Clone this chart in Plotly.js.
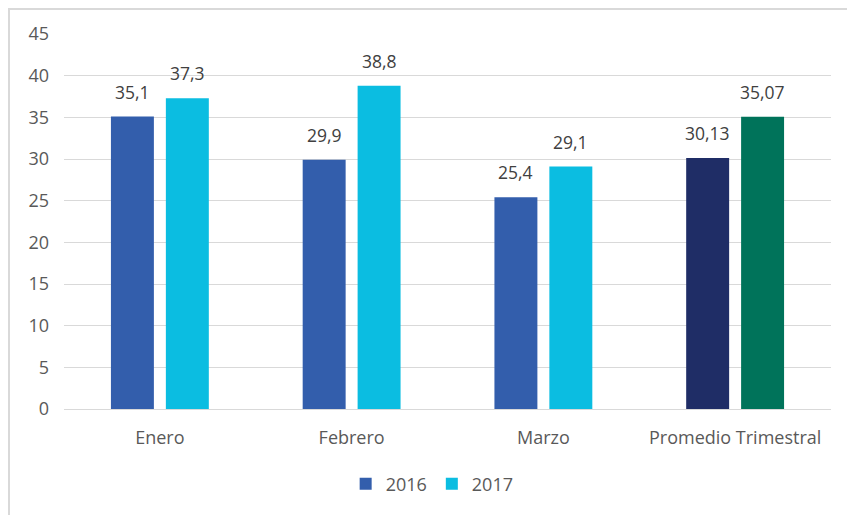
<!DOCTYPE html>
<html><head><meta charset="utf-8">
<script src="https://cdn.plot.ly/plotly-3.0.1.min.js"></script>
<style>
html,body{margin:0;padding:0;background:#fff;}
#wrap{position:relative;width:847px;height:515px;overflow:hidden;}
#frame{position:absolute;left:8px;top:8px;width:860px;height:530px;border:2px solid #d9d9d9;box-sizing:border-box;}
#chart{position:absolute;left:0;top:0;width:847px;height:515px;}
</style></head>
<body><div id="wrap"><div id="frame"></div><div id="chart"></div></div>
<script>
const categories = ["Enero", "Febrero", "Marzo", "Promedio Trimestral"];
const values2016 = [35.1, 29.9, 25.4, 30.13];
const values2017 = [37.3, 38.8, 29.1, 35.07];
const colors2016 = ["#335EAC", "#335EAC", "#335EAC", "#1F2D66"];
const colors2017 = ["#0BBDE1", "#0BBDE1", "#0BBDE1", "#00735A"];
const yTicks = [0, 5, 10, 15, 20, 25, 30, 35, 40, 45];

const fmt = v => String(v).replace('.', ',');
const labelFont = {family: "Open Sans, sans-serif", size: 17.5, color: "#404040"};

const traces = [
  {type: "bar", name: "2016", x: categories, y: values2016,
   marker: {color: colors2016}, hoverinfo: "none"},
  {type: "bar", name: "2017", x: categories, y: values2017,
   marker: {color: colors2017}, hoverinfo: "none"}
];

const annotations = [];
categories.forEach((c, i) => {
  annotations.push({x: c, y: values2016[i], text: fmt(values2016[i]), xref: "x", yref: "y",
    showarrow: false, yanchor: "bottom", xshift: -27.5, yshift: 11, font: labelFont});
  annotations.push({x: c, y: values2017[i], text: fmt(values2017[i]), xref: "x", yref: "y",
    showarrow: false, yanchor: "bottom", xshift: 27.5, yshift: 11, font: labelFont});
});

const layout = {
  width: 847, height: 515,
  margin: {l: 64, r: 16, t: 34, b: 106},
  paper_bgcolor: "rgba(0,0,0,0)", plot_bgcolor: "rgba(0,0,0,0)",
  barmode: "group", bargap: 0.427, bargroupgap: 0.218,
  font: {family: "Open Sans, sans-serif", size: 18, color: "#595959"},
  xaxis: {showgrid: false, showline: true, linecolor: "#d9d9d9", linewidth: 1,
          ticks: "", ticklabelstandoff: 12, tickfont: {size: 18, color: "#595959"}},
  yaxis: {range: [0, 45], tickvals: yTicks, ticktext: yTicks.map(String),
          showgrid: true, gridcolor: "#d9d9d9", gridwidth: 1, zeroline: false,
          showline: false, ticks: "", ticklabelstandoff: 14,
          tickfont: {size: 18, color: "#595959"}},
  annotations: annotations,
  showlegend: true,
  legend: {orientation: "h", x: 0.48, xanchor: "center", y: -0.2, yanchor: "middle",
           font: {size: 18, color: "#595959"}, itemwidth: 30, traceorder: "normal"}
};
Plotly.newPlot("chart", traces, layout, {displayModeBar: false, staticPlot: true});
</script></body></html>
